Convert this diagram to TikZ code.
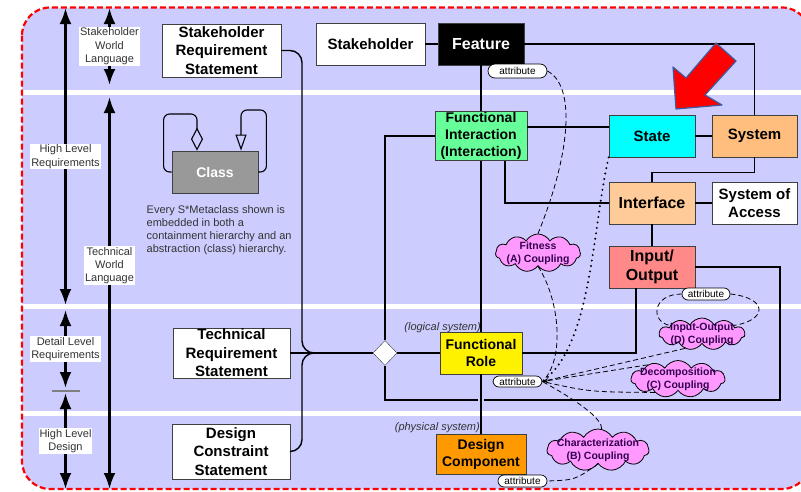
\documentclass[tikz,border=0pt]{standalone}
\usepackage{fontspec}
\setmainfont{Liberation Sans}
\usetikzlibrary{arrows.meta,shapes.geometric,shapes.symbols}

\definecolor{lavender}{RGB}{204,204,255}
\definecolor{fiGreen}{RGB}{102,255,153}
\definecolor{stateCyan}{RGB}{0,255,255}
\definecolor{sysOrange}{RGB}{255,190,125}
\definecolor{intPeach}{RGB}{255,204,153}
\definecolor{ioRed}{RGB}{255,136,136}
\definecolor{dcOrange}{RGB}{255,153,0}
\definecolor{cloudPink}{RGB}{255,153,255}
\definecolor{cloudText}{RGB}{51,0,80}
\definecolor{txtGrey}{RGB}{51,51,51}
\definecolor{edgeGrey}{RGB}{64,64,64}
\definecolor{arrowBlue}{RGB}{60,90,160}

\begin{document}
\begin{tikzpicture}[x=1pt,y=-1pt,
  box/.style={draw=edgeGrey, line width=0.8pt, fill=white, align=center, inner sep=0pt,
    font=\bfseries\fontsize{15}{18.5}\selectfont},
  smallbox/.style={box, font=\bfseries\fontsize{14}{17}\selectfont},
  conn/.style={line width=1.4pt},
  attr/.style={draw, line width=0.7pt, fill=white, rounded corners=6pt, inner sep=0pt,
    minimum width=49pt, minimum height=12pt, font=\fontsize{10}{12}\selectfont},
  coupling/.style={cloud, cloud puffs=11, cloud puff arc=120, cloud ignores aspect,
    draw=black, fill=cloudPink, line width=0.8pt, inner sep=0pt},
  cloudtxt/.style={align=center, inner sep=0pt, text=cloudText,
    font=\bfseries\fontsize{10.5}{13}\selectfont},
  span/.style={line width=2.6pt, {Latex[length=16pt,width=12pt]}-{Latex[length=16pt,width=12pt]}},
  lvl/.style={fill=white, inner sep=1pt, align=center, text=txtGrey,
    font=\fontsize{11}{13.4}\selectfont},
  couple/.style={line width=0.8pt, dash pattern=on 5pt off 3pt},
  realm/.style={inner sep=0pt, text=txtGrey, font=\itshape\fontsize{11}{13}\selectfont}
]
\clip (0,0) rectangle (801,491);

% bands
\fill[lavender, rounded corners=28pt] (22,7.5) rectangle (810,489);
\fill[white] (22,90) rectangle (810,94.5);
\fill[white] (22,304) rectangle (810,308.5);
\fill[white] (22,411) rectangle (810,415.5);

% levels on the left
\draw[span] (65.5,8) -- node[lvl] (hlr) {High Level\\Requirements} (65.5,305);
\draw[span] (65.5,310) -- node[lvl] (dlr) {Detail Level\\Requirements} (65.5,388);
\draw[span] (65.5,393) -- node[lvl] (hld) {High Level\\Design} (65.5,489);
\draw[gray, line width=1.2pt] (52,391) -- (80,391);
\draw[span] (109.5,8) -- node[lvl] (swl) {Stakeholder\\World\\Language} (109.5,85);
\draw[span] (109.5,97) -- node[lvl, pos=0.43] (twl) {Technical\\World\\Language} (109.5,489);

% class legend
\node[smallbox, fill=gray!80, text=white, minimum width=86pt, minimum height=42pt] (cls) at (215,172) {Class};
\draw[line width=1.1pt, rounded corners=6pt, -{Diamond[open, length=23pt, width=12pt]}]
  (cls.west) -| ++(-8,-58) -| ([xshift=-18pt]cls.north);
\draw[line width=1.1pt, rounded corners=6pt, -{Triangle[open, length=16pt, width=11pt]}]
  (cls.east) -| ++(8,-62) -| ([xshift=26pt]cls.north);
\node[anchor=north west, align=left, inner sep=0pt, text=txtGrey, font=\fontsize{11}{13.2}\selectfont]
  (note) at (146.5,205) {Every S*Metaclass shown is\\embedded in both a\\containment hierarchy and an\\abstraction (class) hierarchy.};

% metaclasses
\node[box, minimum width=119pt, minimum height=53pt] (srs) at (221.5,50.5) {Stakeholder\\Requirement\\Statement};
\node[box, minimum width=109pt, minimum height=42pt] (stk) at (370.5,44) {Stakeholder};
\node[box, fill=black, text=white, minimum width=86pt, minimum height=42pt,
  font=\bfseries\fontsize{16}{19}\selectfont] (feat) at (481,44) {Feature};
\node[attr, minimum width=59pt, minimum height=14pt, rounded corners=7pt] (attF) at (517.5,71) {attribute};
\node[smallbox, fill=fiGreen, minimum width=92pt, minimum height=49pt] (fi) at (481,136) {Functional\\Interaction\\(Interaction)};
\node[box, fill=stateCyan, minimum width=86pt, minimum height=42pt] (state) at (652,136) {State};
\node[box, fill=sysOrange, minimum width=85pt, minimum height=42pt] (sys) at (754.5,136) {System};
\node[box, fill=intPeach, minimum width=86pt, minimum height=42pt,
  font=\bfseries\fontsize{16}{19}\selectfont] (int) at (652,203) {Interface};
\node[box, minimum width=85pt, minimum height=42pt] (soa) at (754.5,203) {System of\\Access};
\node[box, fill=ioRed, minimum width=86pt, minimum height=42pt,
  font=\bfseries\fontsize{16}{19.5}\selectfont] (io) at (652,267) {Input/\\Output};
\node[attr, minimum width=48pt] (attIO) at (706,294) {attribute};
\node[box, minimum width=117pt, minimum height=50pt] (trs) at (231.5,353) {Technical\\Requirement\\Statement};
\node[box, minimum width=118pt, minimum height=55pt] (dcs) at (231,451.5) {Design\\Constraint\\Statement};
\node[diamond, draw=edgeGrey, fill=white, inner sep=0pt, minimum width=24pt, minimum height=25pt] (dia) at (385,353) {};
\node[smallbox, fill=yellow, minimum width=82pt, minimum height=42pt] (fr) at (481,353) {Functional\\Role};
\node[attr, minimum height=11pt] (attR) at (517.5,381.5) {attribute};
\node[smallbox, fill=dcOrange, minimum width=90pt, minimum height=40pt] (dc) at (481,454) {Design\\Component};
\node[attr] (attD) at (522.5,481) {attribute};
\node[realm, anchor=east] (logi) at (481,328) {(logical system)};
\node[realm, anchor=east] (phys) at (480,428) {(physical system)};

% couplings
\node[coupling, minimum width=85pt, minimum height=38pt] (fit) at (538,253) {};
\node[cloudtxt] (fitT) at (fit) {Fitness\\(A) Coupling};
\node[coupling, minimum width=86pt, minimum height=32pt] (iod) at (702,334) {};
\node[cloudtxt] (iodT) at (iod) {Input-Output\\(D) Coupling};
\node[coupling, minimum width=94pt, minimum height=37pt] (dec) at (678,379) {};
\node[cloudtxt] (decT) at (dec) {Decomposition\\(C) Coupling};
\node[coupling, minimum width=102pt, minimum height=42pt] (chr) at (598,450) {};
\node[cloudtxt] (chrT) at (chr) {Characterization\\(B) Coupling};

\coordinate (jn) at (302,353);
\coordinate (loopR) at (780,400);
\coordinate (hopR) at (484,400);
\coordinate (hopL) at (478,400);

% connectors
\draw[conn] (stk) -- (feat);
\draw[conn] (feat.east) -| (sys.north);
\draw[conn] (feat) -- (fi);
\draw[conn] (fi) -- (fr);
\draw[conn] (fr) -- (dc);
\draw[conn] ([yshift=9pt]fi.east) -- ([yshift=9pt]state.west);
\draw[conn] (state) -- (sys);
\draw[conn] (sys.south) -- ++(0,15) -| (int.north);
\draw[conn] (int) -- (soa);
\draw[conn] ([xshift=24pt]fi.south) |- (int.west);
\draw[conn] (int) -- (io);
\draw[conn] (io.east) -| (loopR) -- (hopR);
\draw[conn] (hopL) -| (dia.south);
\draw[conn] ([xshift=-16pt]io.south) |- (fr.east);
\draw[conn] (dia) -- (fr);
\draw[conn] (dia.north) |- (fi.west);
\draw[conn, rounded corners=12pt] (srs.east) -| (jn) -- (dia.west);
\draw[conn, rounded corners=12pt] (dcs.east) -| (jn) -- (dia.west);
\draw[conn] (trs) -- (dia);

% coupling links
\draw[couple] (attF.east) .. controls (575,85) and (572,150) .. (fit.north);
\draw[couple] (fit.south) .. controls (560,300) and (565,360) .. (attR.east);
\draw[line width=2.2pt, line cap=round, dash pattern=on 0pt off 5.5pt]
  (state.south west) .. controls (592,230) and (592,345) .. (attR.east);
\draw[couple] (attIO.west) .. controls (652,294) and (650,322) .. (iod.165);
\draw[couple] (attIO.east) .. controls (768,298) and (768,320) .. (iod.15);
\draw[couple] (iod.220) -- (attR.east);
\draw[couple, -{Stealth[length=6pt, width=5pt]}] (dec.155) -- (attR.east);
\draw[couple] (dec.210) .. controls (590,392) .. (attR.east);
\draw[couple] (chr.80) .. controls (602,420) and (585,405) .. (attR.east);
\draw[couple] (chr.south) .. controls (575,480) .. (attD.east);

% pointer
\draw[arrowBlue, line width=1.2pt, fill=red, line join=round]
  (676,109) -- (673,67) -- (686,78) -- (716,43) -- (736,61) -- (705,95) -- (722,105) -- cycle;

\draw[red, line width=2.2pt, dash pattern=on 6pt off 3pt, rounded corners=28pt] (22,7.5) rectangle (810,489);
\end{tikzpicture}
\end{document}
